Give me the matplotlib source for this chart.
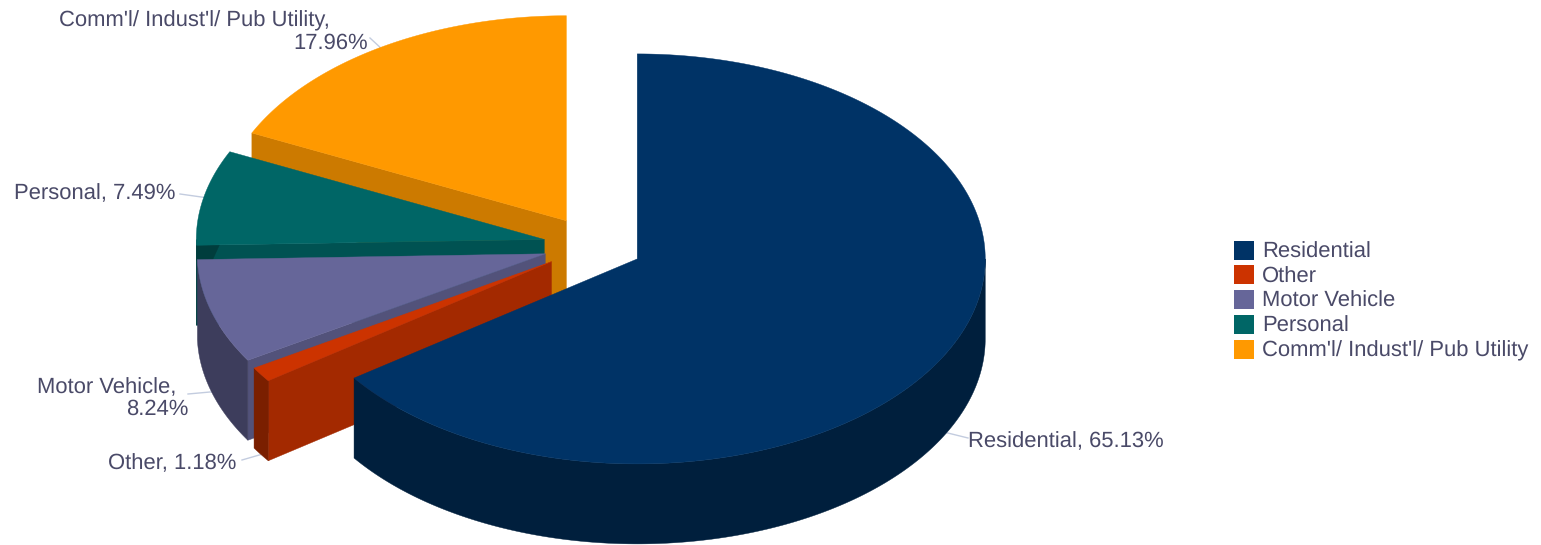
import numpy as np
import matplotlib
matplotlib.use("Agg")
import matplotlib.pyplot as plt
from matplotlib.patches import Patch, Polygon
from matplotlib.colors import to_rgb

# Loan portfolio shares, in percent, clockwise from twelve o'clock
categories = ["Residential", "Other", "Motor Vehicle", "Personal", "Comm'l/ Indust'l/ Pub Utility"]
shares = [65.13, 1.18, 8.24, 7.49, 17.96]
colors = ["#003366", "#CC3300", "#666699", "#006666", "#FF9900"]

# Callout text, one entry per wrapped line: (slice index, text, right edge, vertical centre)
callout_lines = [
    (0, "Residential, 65.13%", 1164, 441),
    (1, "Other, 1.18%", 236, 464),
    (2, "Motor Vehicle,", 176, 387),
    (2, "8.24%", 188, 409),
    (3, "Personal, 7.49%", 175, 194),
    (4, "Comm'l/ Indust'l/ Pub Utility,", 330, 21),
    (4, "17.96%", 368, 43),
]
# Where each callout's leader ends
leader_ends = [(968, 438), (242, 460), (188, 394), (180, 194), (370, 38)]

W, H = 1541, 545
CENTER = (593, 245.5)
RX, RY = 348, 205
DEPTH = 80
EXPLODE = 0.143
TEXT_COLOR = "#4A4A68"
LEADER_COLOR = "#C3CCDF"
FONT_SIZE = 15.85

plt.rcParams["font.family"] = ["Liberation Sans", "DejaVu Sans"]
plt.rcParams["text.hinting"] = "no_hinting"
fig = plt.figure(figsize=(W / 100, H / 100), dpi=100)
ax = fig.add_axes([0, 0, 1, 1])
ax.set_xlim(0, W)
ax.set_ylim(H, 0)
ax.axis("off")


def shade(color, factor):
    return tuple(c * factor for c in to_rgb(color))


def rim(cx, cy, deg):
    t = np.radians(deg)
    return np.column_stack([cx + RX * np.sin(t), cy - RY * np.cos(t)])


def face(points, color, z):
    ax.add_patch(Polygon(points, closed=True, facecolor=color, edgecolor=color,
                         linewidth=0.3, zorder=z))


edges = np.concatenate([[0], np.cumsum(shares)]) * 3.6
slices = []
for i, share in enumerate(shares):
    a, b = edges[i], edges[i + 1]
    mid = (a + b) / 2
    m = np.radians(mid)
    cx = CENTER[0] + EXPLODE * RX * np.sin(m)
    cy = CENTER[1] - EXPLODE * RY * np.cos(m)
    slices.append((i, a, b, mid, cx, cy))

# Painter's order: far slices first, the large front slice last
paint_order = [4, 3, 2, 1, 0]
for z, i in enumerate(paint_order):
    _, a, b, mid, cx, cy = slices[i]
    base = 10 + z * 5
    drop = np.array([0, DEPTH])

    # Radial cut on the clockwise-first side, when it faces the viewer
    if np.cos(np.radians(a - 90)) < -1e-6:
        outer = rim(cx, cy, a)[0]
        tip = np.array([cx, cy])
        face([outer, tip, tip + drop, outer + drop], shade(colors[i], 0.8), base)
        if categories[i] == "Personal":
            # Darker sliver where the cut meets the rim
            top_r = outer + (tip - outer) * 0.066
            low_r = outer + drop * 0.19 + (tip - outer) * 0.046
            face([outer, top_r, low_r, outer + drop * 0.19], shade(colors[i], 0.6), base + 0.5)

    # Outer wall, limited to the front half of the rim
    lo, hi = max(a, 90), min(b, 270)
    if hi > lo:
        arc = rim(cx, cy, np.linspace(lo, hi, 200))
        face(np.vstack([arc, arc[::-1] + drop]), shade(colors[i], 0.6), base + 1)

    # Top surface
    arc = rim(cx, cy, np.linspace(a, b, 400))
    face(np.vstack([[cx, cy], arc]), colors[i], base + 2)

# Leaders run from the rim at each slice's mid-angle and sit behind the slices
for (i, a, b, mid, cx, cy), end in zip(slices, leader_ends):
    start = rim(cx, cy, mid)[0]
    if 90 < mid < 270:
        start = start + np.array([0, DEPTH])
    ax.plot([start[0], end[0]], [start[1], end[1]], color=LEADER_COLOR, lw=1, zorder=5)

for i, text, right, y in callout_lines:
    ax.text(right, y, text, ha="right", va="center", color=TEXT_COLOR,
            fontsize=FONT_SIZE, zorder=70)

handles = [Patch(facecolor=c, edgecolor=c, linewidth=0) for c in colors]
ax.legend(handles, categories, loc="center left",
          bbox_to_anchor=(1234 / W, 1 - 301 / H),
          frameon=False, fontsize=FONT_SIZE, labelcolor=TEXT_COLOR,
          handlelength=0.91, handleheight=0.95, handletextpad=0.36,
          labelspacing=0.14, borderpad=0, borderaxespad=0)

fig.savefig("out.png", dpi=100, facecolor="white")
